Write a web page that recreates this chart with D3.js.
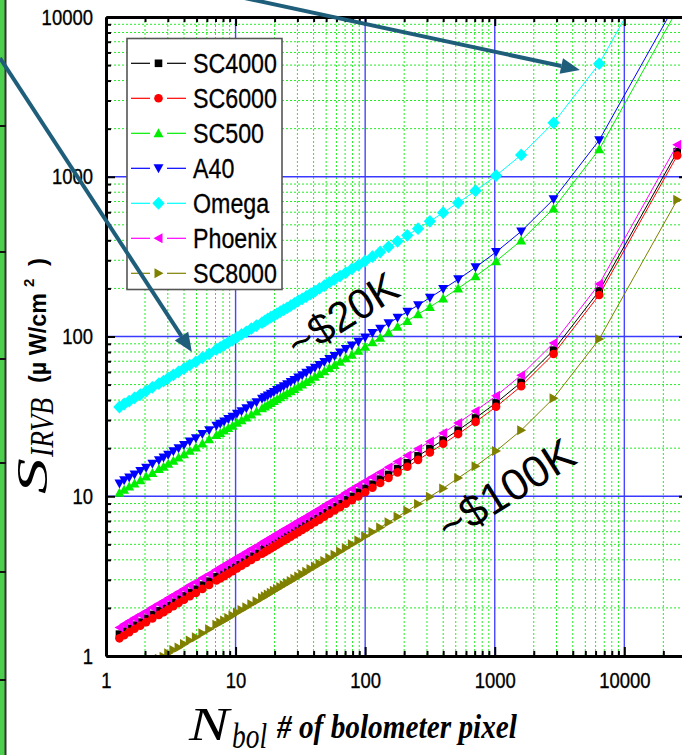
<!DOCTYPE html>
<html>
<head>
<meta charset="utf-8">
<script src="https://cdn.jsdelivr.net/npm/d3@7"></script>
<style>
  body { margin: 0; background: #fff; }
  svg { display: block; }
</style>
</head>
<body>
<svg id="chart" width="682" height="755"></svg>
<script>
// number of bolometer pixels (x values shared by all cameras)
const nbol = [25600, 6400, 2844, 1600, 1024, 711, 522, 400, 316, 256,
  211.6, 177.8, 151.5, 130.6, 113.8, 100, 88.6, 79.0, 70.9, 64,
  58.05, 52.89, 48.39, 44.44, 40.96, 37.87, 35.12, 32.65, 30.44, 28.44,
  26.64, 25, 23.51, 22.15, 20.90, 19.75, 18.70, 17.73, 16.83, 16,
  14.51, 13.22, 12.10, 11.11, 10.24, 9.47, 8.78, 8.16, 7.61, 7.11,
  6.25, 5.54, 4.94, 4.43, 4.0, 3.63, 3.31, 3.02, 2.78, 2.56,
  2.28, 2.04, 1.84, 1.66, 1.51, 1.38, 1.27];

// S_IRVB (uW/cm^2) per camera
const sc4000 = [1435, 193, 82.2, 51.7, 38.4, 30.9, 25.9, 22.5, 19.9, 17.9,
  16.2, 14.9, 13.7, 12.8, 11.9, 11.2, 10.6, 9.99, 9.48, 9.02,
  8.60, 8.22, 7.87, 7.55, 7.26, 6.99, 6.73, 6.50, 6.30, 6.09,
  5.90, 5.72, 5.56, 5.40, 5.26, 5.11, 4.98, 4.86, 4.73, 4.62,
  4.40, 4.22, 4.04, 3.88, 3.73, 3.59, 3.46, 3.34, 3.23, 3.14,
  2.94, 2.78, 2.62, 2.50, 2.38, 2.27, 2.17, 2.07, 1.99, 1.92,
  1.82, 1.72, 1.63, 1.56, 1.49, 1.43, 1.37];
const sc6000 = [1357, 182, 77.7, 48.9, 36.3, 29.2, 24.5, 21.3, 18.8, 16.9,
  15.3, 14.1, 13.0, 12.1, 11.3, 10.6, 9.98, 9.45, 8.97, 8.53,
  8.14, 7.78, 7.44, 7.14, 6.87, 6.61, 6.37, 6.15, 5.95, 5.76,
  5.59, 5.41, 5.26, 5.11, 4.97, 4.84, 4.71, 4.59, 4.48, 4.37,
  4.17, 3.99, 3.82, 3.67, 3.53, 3.39, 3.28, 3.16, 3.06, 2.97,
  2.78, 2.63, 2.48, 2.37, 2.25, 2.15, 2.05, 1.96, 1.88, 1.81,
  1.72, 1.63, 1.55, 1.48, 1.41, 1.35, 1.29];
const sc500 = [11100, 1484, 633, 399, 296, 238, 200, 173, 153, 138,
  125, 115, 106, 98.3, 92.0, 86.4, 81.3, 77.0, 73.0, 69.5,
  66.3, 63.4, 60.6, 58.2, 55.9, 53.9, 51.9, 50.1, 48.5, 46.9,
  45.5, 44.1, 42.9, 41.6, 40.5, 39.4, 38.4, 37.4, 36.5, 35.6,
  33.9, 32.5, 31.1, 29.9, 28.8, 27.6, 26.7, 25.8, 24.9, 24.2,
  22.7, 21.4, 20.2, 19.3, 18.3, 17.5, 16.7, 16.0, 15.3, 14.8,
  14.0, 13.3, 12.6, 12.0, 11.5, 11.0, 10.5];
const a40 = [12600, 1694, 723, 455, 338, 271, 228, 198, 175, 157,
  143, 131, 121, 112, 105, 98.6, 92.8, 87.9, 83.4, 79.3,
  75.6, 72.3, 69.2, 66.4, 63.8, 61.5, 59.2, 57.2, 55.4, 53.5,
  51.9, 50.3, 48.9, 47.5, 46.2, 45.0, 43.8, 42.7, 41.6, 40.7,
  38.7, 37.1, 35.5, 34.1, 32.8, 31.5, 30.5, 29.4, 28.4, 27.6,
  25.9, 24.5, 23.1, 22.0, 20.9, 20.0, 19.1, 18.2, 17.5, 16.8,
  16.0, 15.1, 14.4, 13.7, 13.1, 12.6, 12.0];
const omega = [38000, 5100, 2176, 1370, 1017, 817, 687, 596, 526, 473,
  430, 394, 364, 338, 316, 297, 279, 265, 251, 239,
  228, 218, 208, 200, 192, 185, 178, 172, 167, 161,
  156, 151, 147, 143, 139, 135, 132, 129, 125, 122,
  117, 112, 107, 103, 98.8, 95.0, 91.7, 88.5, 85.6, 83.0,
  77.8, 73.6, 69.4, 66.2, 63.0, 60.1, 57.5, 54.9, 52.6, 50.7,
  48.1, 45.5, 43.3, 41.3, 39.4, 37.8, 36.2];
const phoenix = [1588, 213, 90.9, 57.3, 42.5, 34.2, 28.7, 24.9, 22.0, 19.8,
  18.0, 16.5, 15.2, 14.1, 13.2, 12.4, 11.7, 11.1, 10.5, 9.98,
  9.52, 9.10, 8.71, 8.36, 8.03, 7.74, 7.45, 7.20, 6.97, 6.74,
  6.53, 6.33, 6.16, 5.98, 5.82, 5.66, 5.51, 5.37, 5.24, 5.12,
  4.87, 4.67, 4.47, 4.29, 4.13, 3.97, 3.83, 3.70, 3.58, 3.47,
  3.25, 3.08, 2.90, 2.77, 2.63, 2.51, 2.40, 2.30, 2.20, 2.12,
  2.01, 1.90, 1.81, 1.73, 1.65, 1.58, 1.51];
const sc8000 = [717, 96.3, 41.1, 25.9, 19.2, 15.4, 13.0, 11.2, 9.94, 8.94,
  8.11, 7.44, 6.87, 6.38, 5.97, 5.61, 5.28, 5.00, 4.74, 4.51,
  4.30, 4.11, 3.93, 3.78, 3.63, 3.50, 3.37, 3.25, 3.15, 3.04,
  2.95, 2.86, 2.78, 2.70, 2.63, 2.56, 2.49, 2.43, 2.37, 2.31,
  2.20, 2.11, 2.02, 1.94, 1.87, 1.79, 1.73, 1.67, 1.62, 1.57,
  1.47, 1.39, 1.31, 1.25, 1.19, 1.13, 1.09, 1.04, 0.99, 0.96,
  0.91, 0.86, 0.82, 0.78, 0.74, 0.71, 0.68];

const seriesNames = ['SC4000', 'SC6000', 'SC500', 'A40', 'Omega', 'Phoenix', 'SC8000'];
const seriesValues = [sc4000, sc6000, sc500, a40, omega, phoenix, sc8000];
const seriesColors = ['#000000', '#ff0000', '#00ee00', '#0000ff', '#00ffff', '#ff00ff', '#808000'];
const seriesShapes = ['square', 'circle', 'up', 'down', 'diamond', 'left', 'right'];

const xMajor = [1, 10, 100, 1000, 10000];
const yMajor = [1, 10, 100, 1000, 10000];

// annotations (data coords)
const priceNotes = [
  { text: '~$20K', x: 67, y: 136 },
  { text: '~$100K', x: 1220, y: 11.0 },
];
const arrows = [
  { from: [0.152, 5535], to: [4.6, 80] },
  { from: [10.8, 13340], to: [4540, 4656] },
];

const sans = 'Liberation Sans, Arial, Helvetica, sans-serif';
const serif = 'Liberation Serif, Times New Roman, Times, serif';

const svg = d3.select('#chart');
const plotL = 106, plotR = 688, plotT = 17, plotB = 656;

const x = d3.scaleLog().domain([1, 31000]).range([plotL, plotR]);
const y = d3.scaleLog().domain([1, 10000]).range([plotB, plotT]);

const minorOf = (scale) => {
  const out = [];
  const [a, b] = scale.domain();
  for (let d = 1; d <= b; d *= 10) {
    for (let m = 2; m <= 9; m++) if (m * d > a && m * d < b) out.push(m * d);
  }
  return out;
};
const xMinor = minorOf(x);
const yMinor = minorOf(y);

// left edge strip (neighbouring figure)
svg.append('rect').attr('x', 0).attr('y', 0).attr('width', 5).attr('height', 755).attr('fill', '#4ccf4c');
svg.append('line').attr('x1', 5.5).attr('x2', 5.5).attr('y1', 0).attr('y2', 755)
  .attr('stroke', '#333').attr('stroke-width', 2);
svg.append('g').selectAll('line')
  .data([126, 252, 359, 463, 572, 680])
  .join('line')
  .attr('x1', 0).attr('x2', 6).attr('y1', (d) => d).attr('y2', (d) => d)
  .attr('stroke', '#111').attr('stroke-width', 2);

// grid
const grid = svg.append('g');
grid.selectAll('.gxm').data(xMinor).join('line')
  .attr('x1', (d) => x(d)).attr('x2', (d) => x(d)).attr('y1', plotT).attr('y2', plotB)
  .attr('stroke', '#22ee22').attr('stroke-width', 1).attr('stroke-dasharray', '2,2');
grid.selectAll('.gym').data(yMinor).join('line')
  .attr('y1', (d) => y(d)).attr('y2', (d) => y(d)).attr('x1', plotL).attr('x2', plotR)
  .attr('stroke', '#22ee22').attr('stroke-width', 1).attr('stroke-dasharray', '2,2');
grid.selectAll('.gxM').data(xMajor.slice(1)).join('line')
  .attr('x1', (d) => x(d)).attr('x2', (d) => x(d)).attr('y1', plotT).attr('y2', plotB)
  .attr('stroke', '#4646ff').attr('stroke-width', 1.4);
grid.selectAll('.gyM').data(yMajor.slice(1, -1)).join('line')
  .attr('y1', (d) => y(d)).attr('y2', (d) => y(d)).attr('x1', plotL).attr('x2', plotR)
  .attr('stroke', '#3a3aff').attr('stroke-width', 1.4);

// marker shapes
const shapePath = {
  square: 'M-3.8,-3.8h7.6v7.6h-7.6z',
  circle: 'M-4.3,0a4.3,4.3 0 1,0 8.6,0a4.3,4.3 0 1,0 -8.6,0z',
  up: 'M0,-5L5,4L-5,4z',
  down: 'M0,5L5,-4L-5,-4z',
  diamond: 'M0,-6.4L6.2,0L0,6.4L-6.2,0z',
  left: 'M-5,0L4,-5L4,5z',
  right: 'M5,0L-4,-5L-4,5z',
};

svg.append('clipPath').attr('id', 'plotclip')
  .append('rect').attr('x', plotL).attr('y', plotT).attr('width', plotR - plotL).attr('height', plotB - plotT);

const plot = svg.append('g').attr('clip-path', 'url(#plotclip)');
const line = d3.line().x((d) => x(d[0])).y((d) => y(d[1]));

seriesNames.forEach((name, i) => {
  const pts = nbol.map((n, j) => [n, seriesValues[i][j]]);
  const g = plot.append('g').attr('class', 'series-' + name);
  g.append('path')
    .attr('d', line(pts))
    .attr('fill', 'none')
    .attr('stroke', seriesColors[i])
    .attr('stroke-width', 1);
  g.selectAll('path.mk')
    .data(pts)
    .join('path')
    .attr('class', 'mk')
    .attr('d', shapePath[seriesShapes[i]])
    .attr('transform', (d) => `translate(${x(d[0])},${y(d[1])})`)
    .attr('fill', seriesColors[i]);
});

// axes
const styleLabels = (g, factor) => {
  g.selectAll('text')
    .attr('font-family', sans)
    .attr('font-size', 22)
    .attr('fill', '#000')
    .attr('stroke', '#000')
    .attr('stroke-width', 0.35)
    .each(function () {
      const w = this.getComputedTextLength();
      d3.select(this).attr('textLength', w * factor).attr('lengthAdjust', 'spacingAndGlyphs');
    });
};
const thick = (g) => g.select('.domain').attr('stroke-width', 3);
const noDomain = (g) => g.select('.domain').remove();
const tickW = (g) => g.selectAll('.tick line').attr('stroke-width', 2);

svg.append('g').attr('transform', `translate(${plotL},0)`)
  .call(d3.axisLeft(y).tickValues(yMinor).tickSize(-5).tickFormat(''))
  .call(noDomain).call(tickW);
svg.append('g').attr('transform', `translate(${plotR},0)`)
  .call(d3.axisRight(y).tickValues(yMinor).tickSize(-5).tickFormat(''))
  .call(noDomain).call(tickW);
svg.append('g').attr('transform', `translate(0,${plotB})`)
  .call(d3.axisBottom(x).tickValues(xMinor).tickSize(-5).tickFormat(''))
  .call(noDomain).call(tickW);
svg.append('g').attr('transform', `translate(0,${plotT})`)
  .call(d3.axisTop(x).tickValues(xMinor).tickSize(-5).tickFormat(''))
  .call(noDomain).call(tickW);

svg.append('g').attr('transform', `translate(${plotR},0)`)
  .call(d3.axisRight(y).tickValues(yMajor).tickSize(-9).tickSizeOuter(0).tickFormat(''))
  .call(thick).call(tickW);
svg.append('g').attr('transform', `translate(0,${plotT})`)
  .call(d3.axisTop(x).tickValues(xMajor).tickSize(-9).tickSizeOuter(0).tickFormat(''))
  .call(thick).call(tickW);
svg.append('g').attr('transform', `translate(${plotL},0)`)
  .call(d3.axisLeft(y).tickValues(yMajor).tickSize(-9).tickSizeOuter(0).tickPadding(13).tickFormat(d3.format('d')))
  .call(thick).call(tickW)
  .call((g) => styleLabels(g, 0.84));
svg.append('g').attr('transform', `translate(0,${plotB})`)
  .call(d3.axisBottom(x).tickValues(xMajor).tickSize(-9).tickSizeOuter(0).tickPadding(16).tickFormat(d3.format('d')))
  .call(thick).call(tickW)
  .call((g) => styleLabels(g, 0.84));

// legend
const legend = svg.append('g');
legend.append('rect')
  .attr('x', 127).attr('y', 38.5).attr('width', 155).attr('height', 251)
  .attr('fill', '#fff').attr('stroke', '#555').attr('stroke-width', 1.6);
const rows = legend.selectAll('g.row')
  .data(seriesNames)
  .join('g')
  .attr('class', 'row')
  .attr('transform', (d, i) => `translate(0,${63.3 + i * 35})`);
rows.append('line').attr('x1', 131).attr('x2', 150).attr('y1', 0).attr('y2', 0)
  .attr('stroke', (d, i) => seriesColors[i]).attr('stroke-width', 1.2);
rows.append('line').attr('x1', 167).attr('x2', 186).attr('y1', 0).attr('y2', 0)
  .attr('stroke', (d, i) => seriesColors[i]).attr('stroke-width', 1.2);
rows.append('path')
  .attr('d', (d, i) => shapePath[seriesShapes[i]])
  .attr('transform', 'translate(158.5,0)')
  .attr('fill', (d, i) => seriesColors[i]);
rows.append('text')
  .attr('x', 193).attr('y', 9.8)
  .attr('font-family', sans).attr('font-size', 27)
  .attr('stroke', '#000').attr('stroke-width', 0.3)
  .text((d) => d)
  .each(function () {
    const w = this.getComputedTextLength();
    d3.select(this).attr('textLength', w * 0.86).attr('lengthAdjust', 'spacingAndGlyphs');
  });

// price notes
svg.append('g').selectAll('text')
  .data(priceNotes)
  .join('text')
  .attr('transform', (d) => `translate(${x(d.x)},${y(d.y)}) rotate(-32)`)
  .attr('text-anchor', 'middle')
  .attr('dominant-baseline', 'central')
  .attr('font-family', sans)
  .attr('font-size', (d, i) => (i === 0 ? 42 : 44))
  .attr('fill', '#000')
  .text((d) => d.text);

// arrows
const arrowColor = '#1f5e7a';
arrows.forEach((a) => {
  const x0 = x(a.from[0]), y0 = y(a.from[1]);
  const x1 = x(a.to[0]), y1 = y(a.to[1]);
  const ang = Math.atan2(y1 - y0, x1 - x0);
  const len = 19, hw = 8;
  const bx = x1 - len * Math.cos(ang), by = y1 - len * Math.sin(ang);
  svg.append('line')
    .attr('x1', x0).attr('y1', y0).attr('x2', bx).attr('y2', by)
    .attr('stroke', arrowColor).attr('stroke-width', 4);
  svg.append('path')
    .attr('d', `M${x1},${y1}L${bx + hw * Math.sin(ang)},${by - hw * Math.cos(ang)}L${bx - hw * Math.sin(ang)},${by + hw * Math.cos(ang)}Z`)
    .attr('fill', arrowColor);
});

// y axis title
const yt = svg.append('g');
yt.append('text')
  .attr('transform', 'translate(47,494) rotate(-90)')
  .attr('font-family', serif).attr('font-style', 'italic').attr('font-size', 44)
  .attr('textLength', 36).attr('lengthAdjust', 'spacingAndGlyphs')
  .text('S');
yt.append('text')
  .attr('transform', 'translate(53,457) rotate(-90)')
  .attr('font-family', serif).attr('font-style', 'italic').attr('font-size', 33)
  .attr('textLength', 59).attr('lengthAdjust', 'spacingAndGlyphs')
  .text('IRVB');
yt.append('text')
  .attr('transform', 'translate(46,383) rotate(-90)')
  .attr('font-family', sans).attr('font-weight', 'bold').attr('font-size', 24)
  .attr('textLength', 90).attr('lengthAdjust', 'spacingAndGlyphs')
  .text('(\u00b5 W/cm');
yt.append('text')
  .attr('transform', 'translate(34,287) rotate(-90)')
  .attr('font-family', sans).attr('font-weight', 'bold').attr('font-size', 15)
  .text('2');
yt.append('text')
  .attr('transform', 'translate(46,266) rotate(-90)')
  .attr('font-family', sans).attr('font-weight', 'bold').attr('font-size', 24)
  .text(')');

// x axis title
const xt = svg.append('g');
xt.append('text')
  .attr('x', 189).attr('y', 740)
  .attr('font-family', serif).attr('font-style', 'italic').attr('font-size', 46)
  .attr('textLength', 40).attr('lengthAdjust', 'spacingAndGlyphs')
  .text('N');
xt.append('text')
  .attr('x', 232).attr('y', 748)
  .attr('font-family', serif).attr('font-style', 'italic').attr('font-size', 36)
  .attr('textLength', 35).attr('lengthAdjust', 'spacingAndGlyphs')
  .text('bol');
xt.append('text')
  .attr('x', 277).attr('y', 738)
  .attr('font-family', serif).attr('font-style', 'italic').attr('font-weight', 'bold').attr('font-size', 33)
  .attr('textLength', 240).attr('lengthAdjust', 'spacingAndGlyphs')
  .text('# of bolometer pixel');
</script>
</body>
</html>
